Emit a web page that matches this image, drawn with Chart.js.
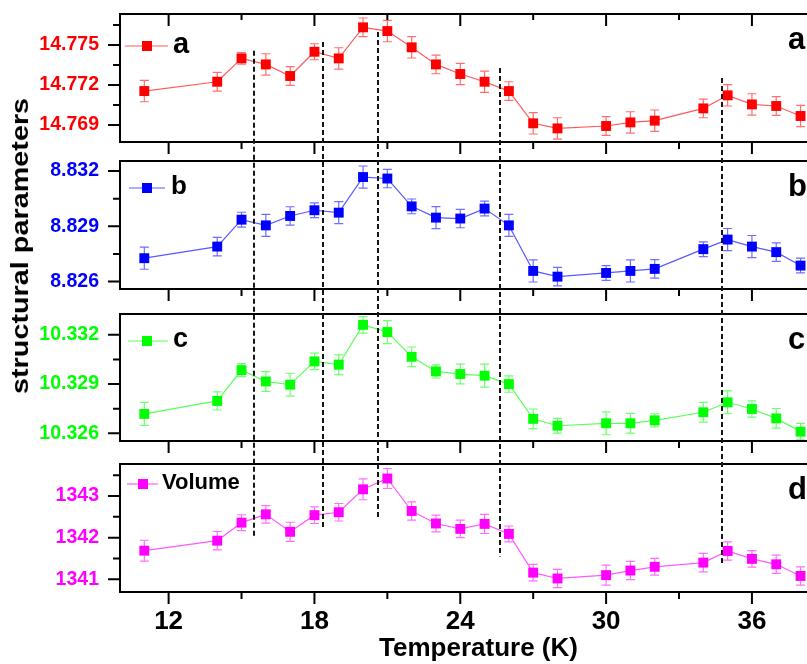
<!DOCTYPE html>
<html>
<head>
<meta charset="utf-8">
<script src="https://cdn.jsdelivr.net/npm/chart.js@4.4.1/dist/chart.umd.min.js"></script>
<style>
  html, body { margin: 0; padding: 0; width: 807px; height: 664px; overflow: hidden; background: #fff; }
  #wrap { position: relative; width: 807px; height: 664px; overflow: hidden; }
  canvas { position: absolute; left: 0; }
  #overlay { top: 0; pointer-events: none; }
  #ytitle {
    position: absolute; left: 20px; top: 246px;
    font: bold 24px "Liberation Sans", Arial, sans-serif; color: #000; white-space: nowrap;
    transform: translate(-50%, -50%) rotate(-90deg) scaleX(1.2);
  }
</style>
</head>
<body>
<div id="wrap">
  <canvas id="pa" width="850" height="165" style="top:0px"></canvas>
  <canvas id="pb" width="850" height="170" style="top:140px"></canvas>
  <canvas id="pc" width="850" height="170" style="top:292px"></canvas>
  <canvas id="pd" width="850" height="222" style="top:442px"></canvas>
  <canvas id="overlay" width="807" height="664"></canvas>
  <div id="ytitle">structural parameters</div>
</div>
<script>
// temperatures (K)
const temps = [11, 14, 15, 16, 17, 18, 19, 20, 21, 22, 23, 24, 25, 26, 27, 28, 30, 31, 32, 34, 35, 36, 37, 38];

// lattice parameter a
const aValues = [14.77155, 14.77225, 14.7740, 14.77355, 14.77268, 14.7745, 14.7740, 14.77633, 14.77605, 14.77483,
  14.77355, 14.77283, 14.77225, 14.77155, 14.76913, 14.76875, 14.76893, 14.7692, 14.76933, 14.77025,
  14.77123, 14.77055, 14.77043, 14.76968];
const aErrors = [0.0008, 0.0007, 0.00044, 0.0008, 0.0007, 0.0006, 0.0008, 0.0007, 0.0008, 0.0008,
  0.0007, 0.0008, 0.0008, 0.0007, 0.0008, 0.0008, 0.0007, 0.0008, 0.0008, 0.0007,
  0.0008, 0.0008, 0.0007, 0.0008];

// lattice parameter b
const bValues = [8.82727, 8.8279, 8.82936, 8.82905, 8.82956, 8.82987, 8.82974, 8.83167, 8.83159, 8.83008,
  8.82947, 8.82942, 8.82996, 8.82905, 8.82658, 8.82627, 8.82647, 8.82658, 8.82669, 8.82776,
  8.82828, 8.8279, 8.8276, 8.82687];
const bErrors = [0.0006, 0.0005, 0.0004, 0.0006, 0.0005, 0.0004, 0.0006, 0.0006, 0.0005, 0.0004,
  0.0006, 0.0005, 0.0004, 0.0006, 0.0006, 0.0005, 0.0004, 0.0006, 0.0005, 0.0004,
  0.0006, 0.0006, 0.0005, 0.0004];

// lattice parameter c
const cValues = [10.32718, 10.32797, 10.32985, 10.32916, 10.32896, 10.33038, 10.33018, 10.33261, 10.33217, 10.33066,
  10.32977, 10.32961, 10.32951, 10.329, 10.32688, 10.32646, 10.32661, 10.32661, 10.32679, 10.32728,
  10.32789, 10.32748, 10.32691, 10.3261];
const cErrors = [0.0007, 0.00055, 0.0004, 0.0006, 0.0007, 0.0005, 0.0006, 0.0005, 0.0007, 0.0006,
  0.0004, 0.0006, 0.0007, 0.0005, 0.0006, 0.00045, 0.0007, 0.0006, 0.0004, 0.0006,
  0.0007, 0.0005, 0.0006, 0.0005];

// cell volume
const dValues = [1341.687, 1341.927, 1342.36, 1342.56, 1342.14, 1342.54, 1342.61, 1343.16, 1343.42, 1342.64,
  1342.34, 1342.21, 1342.33, 1342.09, 1341.16, 1341.02, 1341.10, 1341.21, 1341.30, 1341.40,
  1341.68, 1341.49, 1341.36, 1341.08];
const dErrors = [0.25, 0.22, 0.19, 0.21, 0.23, 0.2, 0.21, 0.25, 0.24, 0.22,
  0.2, 0.21, 0.23, 0.19, 0.2, 0.22, 0.24, 0.22, 0.2, 0.22,
  0.22, 0.2, 0.22, 0.22];

// axis ranges and ticks
const xRange = [10, 39.5];
const xMajorTicks = [12, 18, 24, 30, 36];
const xMinorTicks = [15, 21, 27, 33];
const aRange = [14.76773, 14.77733];
const aMajorTicks = [14.769, 14.772, 14.775];
const aMinorTicks = [14.7705, 14.7735, 14.7765];
const bRange = [8.8256, 8.83254];
const bMajorTicks = [8.826, 8.829, 8.832];
const bMinorTicks = [8.8275, 8.8305];
const cRange = [10.32553, 10.33327];
const cMajorTicks = [10.326, 10.329, 10.332];
const cMinorTicks = [10.3275, 10.3305];
const dRange = [1340.695, 1343.768];
const dMajorTicks = [1341, 1342, 1343];
const dMinorTicks = [1341.5, 1342.5, 1343.5];

// dashed transition markers: temperature, top end (in a units), bottom end (in volume units)
const dashTemps = [15.5, 18.35, 20.6, 25.65, 34.75];
const dashTopA = [14.77457, 14.77523, 14.77598, 14.77328, 14.77253];
const dashBottomD = [1342.0, 1342.22, 1342.44, 1341.55, 1341.34];

const FONT = "'Liberation Sans', Arial, sans-serif";
Chart.defaults.font.family = FONT;

const errorBars = {
  id: "errorBars",
  beforeDatasetsDraw(chart) {
    const { ctx } = chart;
    const x = chart.scales.x;
    const y = chart.scales.y;
    chart.data.datasets.forEach((ds) => {
      ctx.save();
      ctx.strokeStyle = ds.errorColor;
      ctx.lineWidth = 1.2;
      ds.data.forEach((pt, i) => {
        const e = ds.errors[i];
        const px = x.getPixelForValue(pt.x);
        const top = y.getPixelForValue(pt.y + e);
        const bot = y.getPixelForValue(pt.y - e);
        ctx.beginPath();
        ctx.moveTo(px, top);
        ctx.lineTo(px, bot);
        ctx.moveTo(px - 4.5, top);
        ctx.lineTo(px + 4.5, top);
        ctx.moveTo(px - 4.5, bot);
        ctx.lineTo(px + 4.5, bot);
        ctx.stroke();
      });
      ctx.restore();
    });
  },
};

// box frame with Origin-like tick marks
const frame = {
  id: "frame",
  afterDraw(chart, args, opts) {
    const { ctx, chartArea: a } = chart;
    const x = chart.scales.x;
    const y = chart.scales.y;
    ctx.save();
    ctx.strokeStyle = "#000";
    ctx.lineWidth = 2;
    ctx.strokeRect(a.left, a.top, a.right - a.left, a.bottom - a.top);
    ctx.beginPath();
    y.ticks.forEach((t) => {
      const py = y.getPixelForValue(t.value);
      const len = opts.yMajor.includes(t.value) ? 12 : 7;
      ctx.moveTo(a.left - len, py);
      ctx.lineTo(a.left, py);
    });
    x.ticks.forEach((t) => {
      const px = x.getPixelForValue(t.value);
      const major = xMajorTicks.includes(t.value);
      ctx.moveTo(px, a.bottom);
      ctx.lineTo(px, a.bottom + (major ? 12 : 7));
      if (opts.topTicks) {
        ctx.moveTo(px, a.top);
        ctx.lineTo(px, a.top + (major ? 12 : 6));
      }
    });
    ctx.stroke();
    ctx.restore();
  },
};

// legend entry at top-left and panel letter at right
const panelLabels = {
  id: "panelLabels",
  afterDraw(chart, args, o) {
    const { ctx, chartArea: a } = chart;
    const ly = a.top + o.dy;
    ctx.save();
    ctx.strokeStyle = o.lineColor;
    ctx.lineWidth = 1.2;
    ctx.beginPath();
    ctx.moveTo(a.left + o.x0, ly);
    ctx.lineTo(a.left + o.x1, ly);
    ctx.stroke();
    ctx.fillStyle = o.color;
    ctx.fillRect(a.left + o.mx - 5, ly - 5, 10, 10);
    ctx.fillStyle = "#000";
    ctx.textBaseline = "middle";
    ctx.textAlign = "left";
    ctx.font = "bold " + o.size + "px " + FONT;
    ctx.fillText(o.text, a.left + o.tx, ly - 1);
    ctx.textBaseline = "alphabetic";
    ctx.font = "bold 31px " + FONT;
    ctx.fillText(o.letter, a.right - 49, a.top + 35);
    ctx.restore();
  },
};

const panels = [
  { id: "pa", values: aValues, errors: aErrors, range: aRange, major: aMajorTicks, minor: aMinorTicks, decimals: 3,
    color: "#ff0000", lineColor: "#ff5a5a", errColor: "#ff6e6e", pad: [14, 23], topTicks: true, showX: false,
    legend: { text: "a", letter: "a", dy: 32, x0: 5, x1: 48, mx: 27, tx: 53, size: 29 } },
  { id: "pb", values: bValues, errors: bErrors, range: bRange, major: bMajorTicks, minor: bMinorTicks, decimals: 3,
    color: "#0000ff", lineColor: "#5a5aff", errColor: "#6e6eff", pad: [21, 21], topTicks: false, showX: false,
    legend: { text: "b", letter: "b", dy: 27, x0: 9, x1: 45, mx: 27, tx: 51, size: 26 } },
  { id: "pc", values: cValues, errors: cErrors, range: cRange, major: cMajorTicks, minor: cMinorTicks, decimals: 3,
    color: "#00ff00", lineColor: "#5aff5a", errColor: "#6eff6e", pad: [22, 21], topTicks: false, showX: false,
    legend: { text: "c", letter: "c", dy: 27, x0: 8, x1: 48, mx: 27, tx: 53, size: 27 } },
  { id: "pd", values: dValues, errors: dErrors, range: dRange, major: dMajorTicks, minor: dMinorTicks, decimals: 0,
    color: "#ff00ff", lineColor: "#ff5aff", errColor: "#ff6eff", pad: [22, 0], topTicks: false, showX: true,
    legend: { text: "Volume", letter: "d", dy: 20, x0: 7, x1: 38, mx: 23, tx: 42, size: 22 } },
];

function makePanel(p) {
  const canvas = document.getElementById(p.id);
  const xTicks = xMajorTicks.concat(xMinorTicks).sort((m, n) => m - n);
  const yTicks = p.major.concat(p.minor).sort((m, n) => m - n);
  return new Chart(canvas, {
    type: "line",
    data: {
      datasets: [
        {
          label: p.legend.text,
          data: temps.map((t, i) => ({ x: t, y: p.values[i] })),
          errors: p.errors,
          errorColor: p.errColor,
          borderColor: p.lineColor,
          borderWidth: 1.2,
          pointStyle: "rect",
          pointRadius: 7,
          pointBorderWidth: 0,
          pointBackgroundColor: p.color,
          pointBorderColor: p.color,
          tension: 0,
          fill: false,
          clip: false,
        },
      ],
    },
    options: {
      responsive: false,
      animation: false,
      events: [],
      layout: { padding: { top: p.pad[0], bottom: p.pad[1], left: 0, right: 13 } },
      plugins: {
        legend: { display: false },
        tooltip: { enabled: false },
        frame: { yMajor: p.major, topTicks: p.topTicks },
        panelLabels: Object.assign({ color: p.color, lineColor: p.lineColor }, p.legend),
      },
      scales: {
        x: {
          type: "linear",
          min: xRange[0],
          max: xRange[1],
          display: p.showX,
          afterBuildTicks: (s) => {
            s.ticks = xTicks.map((v) => ({ value: v }));
          },
          afterFit: (s) => {
            if (p.showX) s.height = 72;
            s.paddingLeft = 0;
            s.paddingRight = 0;
          },
          grid: { display: false, drawTicks: false },
          border: { display: false },
          ticks: {
            color: "#000",
            font: { size: 26, weight: "bold" },
            padding: 14,
            maxRotation: 0,
            autoSkip: false,
            callback: (v) => (xMajorTicks.includes(v) ? String(v) : ""),
          },
          title: {
            display: p.showX,
            text: "Temperature (K)",
            color: "#000",
            font: { size: 26, weight: "bold" },
            padding: 0,
          },
        },
        y: {
          type: "linear",
          min: p.range[0],
          max: p.range[1],
          afterBuildTicks: (s) => {
            s.ticks = yTicks.map((v) => ({ value: v }));
          },
          afterFit: (s) => {
            s.width = 120;
            s.paddingTop = 0;
            s.paddingBottom = 0;
          },
          grid: { display: false, drawTicks: false },
          border: { display: false },
          ticks: {
            color: p.color,
            font: { size: 19.5, weight: "bold" },
            padding: 21,
            autoSkip: false,
            callback: (v) => (p.major.includes(v) ? v.toFixed(p.decimals) : ""),
          },
        },
      },
    },
    plugins: [errorBars, frame, panelLabels],
  });
}

const charts = panels.map(makePanel);

// dashed vertical markers spanning the panels
const overlay = document.getElementById("overlay");
const octx = overlay.getContext("2d");
const chartA = charts[0];
const chartD = charts[3];
const topOffset = document.getElementById("pa").offsetTop;
const bottomOffset = document.getElementById("pd").offsetTop;
octx.strokeStyle = "#151515";
octx.lineWidth = 2;
octx.setLineDash([5, 3]);
dashTemps.forEach((t, i) => {
  const px = Math.round(chartA.scales.x.getPixelForValue(t));
  const y0 = topOffset + chartA.scales.y.getPixelForValue(dashTopA[i]);
  const y1 = bottomOffset + chartD.scales.y.getPixelForValue(dashBottomD[i]);
  octx.beginPath();
  octx.moveTo(px, y0);
  octx.lineTo(px, y1);
  octx.stroke();
});
</script>
</body>
</html>
